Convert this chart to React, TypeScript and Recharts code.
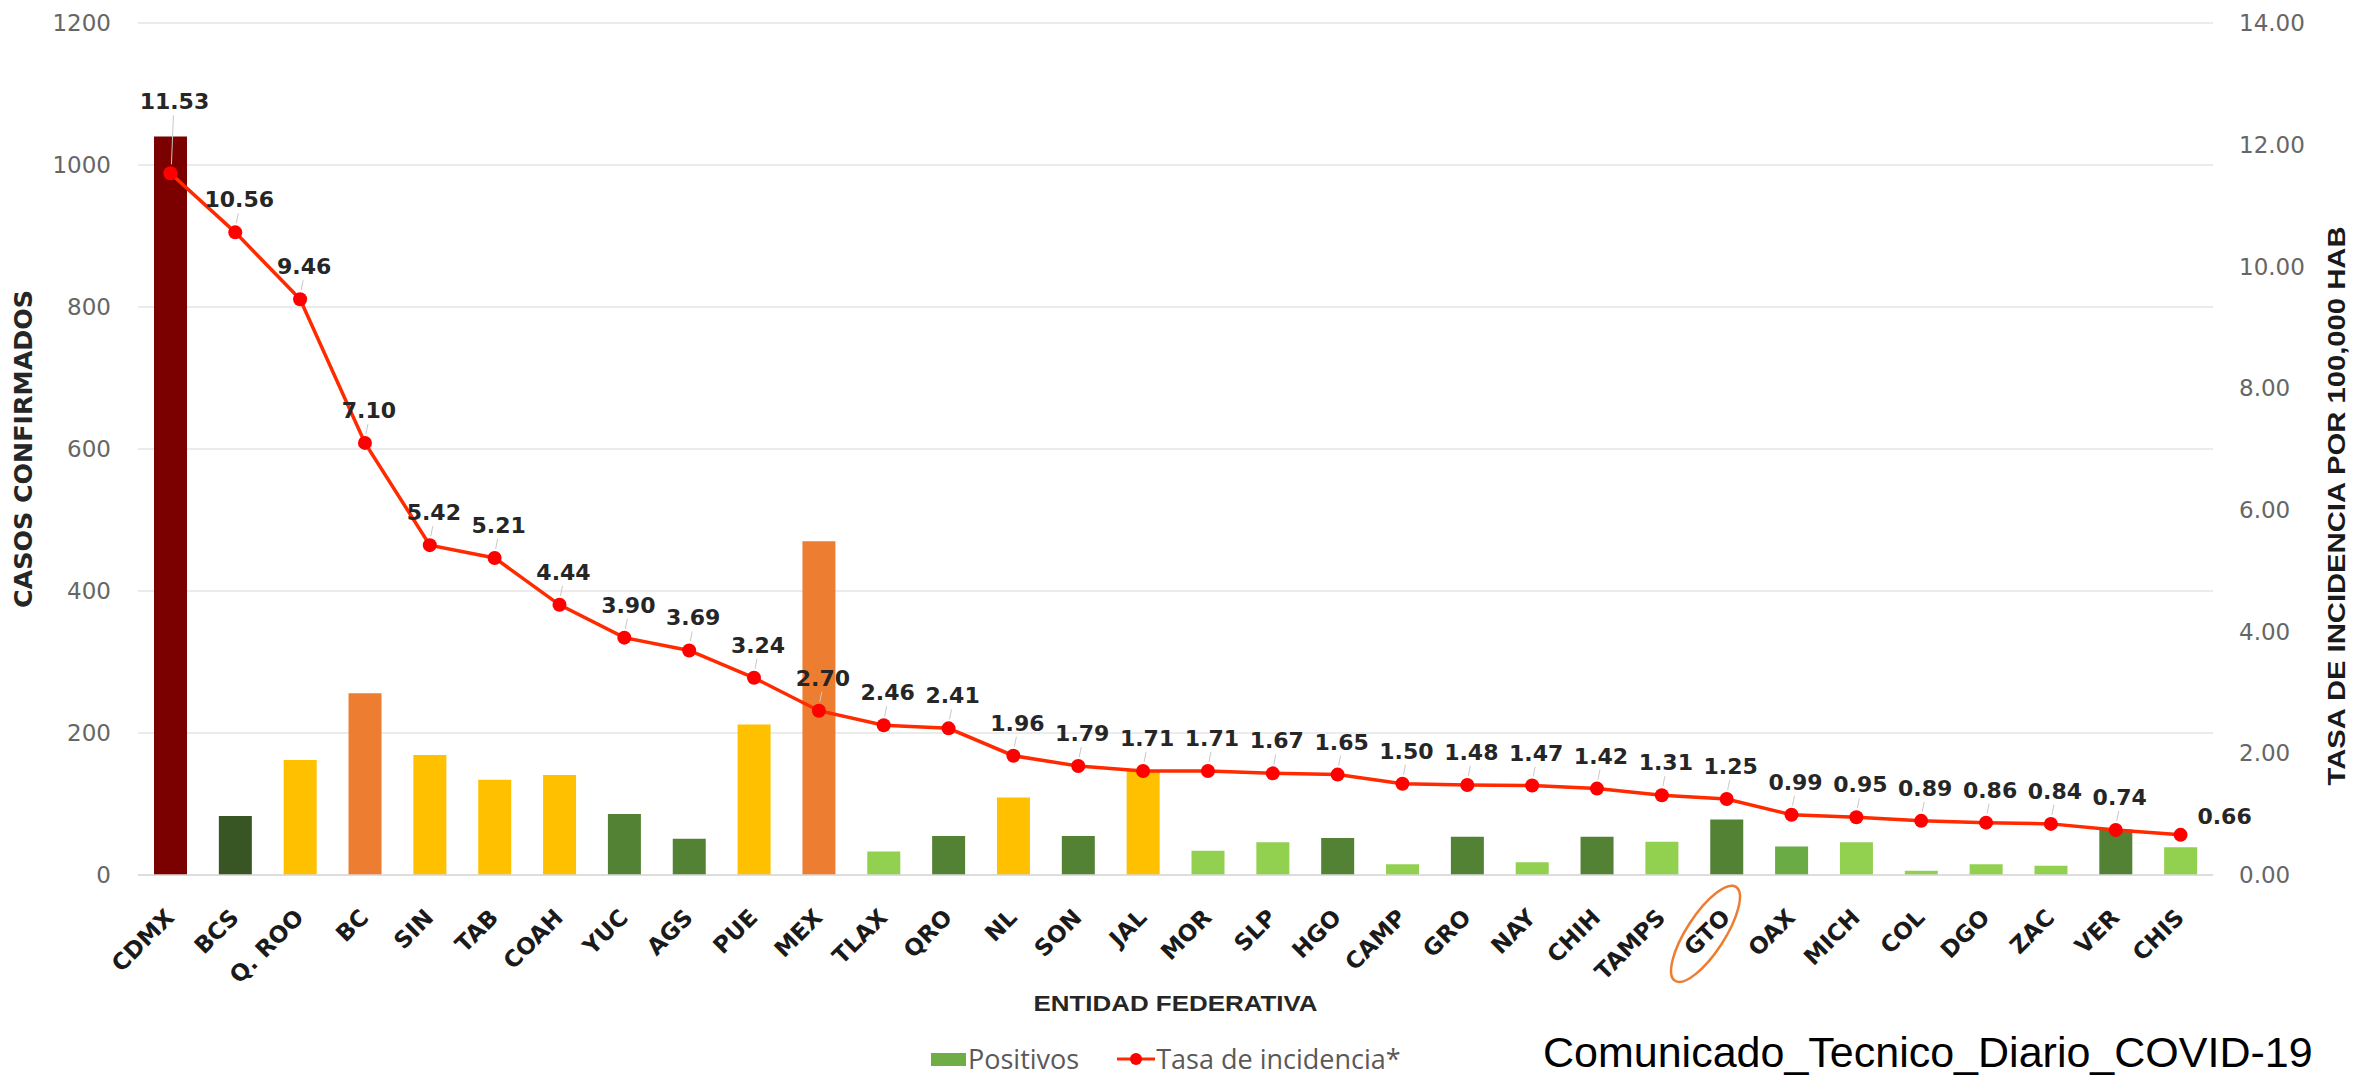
import React from 'react';
import {
  ComposedChart, Bar, Line, Cell, XAxis, YAxis, CartesianGrid, Legend, LabelList, Label,
} from 'recharts';

const ESTADOS = ['CDMX', 'BCS', 'Q. ROO', 'BC', 'SIN', 'TAB', 'COAH', 'YUC', 'AGS', 'PUE', 'MEX', 'TLAX', 'QRO', 'NL', 'SON', 'JAL', 'MOR', 'SLP', 'HGO', 'CAMP', 'GRO', 'NAY', 'CHIH', 'TAMPS', 'GTO', 'OAX', 'MICH', 'COL', 'DGO', 'ZAC', 'VER', 'CHIS'];
const POSITIVOS = [1040, 83, 162, 256, 169, 134, 141, 86, 51, 212, 470, 33, 55, 109, 55, 148, 34, 46, 52, 15, 54, 18, 54, 47, 78, 40, 46, 6, 15, 13, 64, 39];
const TASA = [11.53, 10.56, 9.46, 7.10, 5.42, 5.21, 4.44, 3.90, 3.69, 3.24, 2.70, 2.46, 2.41, 1.96, 1.79, 1.71, 1.71, 1.67, 1.65, 1.50, 1.48, 1.47, 1.42, 1.31, 1.25, 0.99, 0.95, 0.89, 0.86, 0.84, 0.74, 0.66];
// nivel de color de cada barra
const NIVEL = ['rojo', 'verdeOsc', 'amarillo', 'naranja', 'amarillo', 'amarillo', 'amarillo', 'verde', 'verde', 'amarillo', 'naranja', 'verdeClaro', 'verde', 'amarillo', 'verde', 'amarillo', 'verdeClaro', 'verdeClaro', 'verde', 'verdeClaro', 'verde', 'verdeClaro', 'verde', 'verdeClaro', 'verde', 'verdeMedio', 'verdeClaro', 'verdeClaro', 'verdeClaro', 'verdeClaro', 'verde', 'verdeClaro'];
const LEFT_TICKS = [0, 200, 400, 600, 800, 1000, 1200];
const RIGHT_TICKS = [0, 2, 4, 6, 8, 10, 12, 14];

const COLORES: Record<string, string> = {
  rojo: '#7B0000',
  naranja: '#ED7D31',
  amarillo: '#FFC000',
  verdeOsc: '#375623',
  verde: '#548235',
  verdeMedio: '#6AAB46',
  verdeClaro: '#92D050',
};

const data = ESTADOS.map((estado, i) => ({ estado, positivos: POSITIVOS[i], tasa: TASA[i] }));

const BOLD = 'DejaVu Sans, sans-serif';

function EstadoTick({ x, y, payload }: any) {
  const gto = payload.value === 'GTO';
  return (
    <g transform={`translate(${x + 5},${y + 42})`}>
      <g transform="rotate(-45)">
        <text textAnchor="end" fontFamily={BOLD} fontWeight="bold" fontSize={23} fill="#1a1a1a">
          {payload.value}
        </text>
        {gto && (
          <ellipse cx={-29} cy={-8} rx={56} ry={19} transform="rotate(-12 -29 -8)"
            fill="none" stroke="#ED7D31" strokeWidth={2.5} />
        )}
      </g>
    </g>
  );
}

function TasaLabel(props: any) {
  const { x, y, value, index } = props;
  const txt = Number(value).toFixed(2);
  const common = {
    textAnchor: 'middle' as const, dominantBaseline: 'middle' as const,
    fontFamily: BOLD, fontWeight: 'bold', fontSize: 22, fill: '#262626',
  };
  if (index === TASA.length - 1) {
    return <text x={x + 44} y={y - 17} {...common}>{txt}</text>;
  }
  // la primera etiqueta queda encima de la barra de CDMX
  const off = index === 0 ? 70 : 31;
  return (
    <g>
      <line x1={x + 1} y1={y - 9} x2={x + 3} y2={y - off + 12} stroke="#C8C8C8" strokeWidth={1} />
      <text x={x + 4} y={y - off} {...common}>{txt}</text>
    </g>
  );
}

function LeyendaContenido() {
  const txt: React.CSSProperties = {
    fontFamily: 'Open Sans, sans-serif', fontSize: 27, lineHeight: '26px', color: '#595959',
  };
  return (
    <div style={{ display: 'flex', alignItems: 'center', height: 26 }}>
      <div style={{ width: 35, height: 13, background: '#70AD47', marginRight: 2 }} />
      <span style={txt}>Positivos</span>
      <svg width={38} height={20} style={{ marginLeft: 38, marginRight: 1 }}>
        <line x1={0} y1={10} x2={38} y2={10} stroke="#FF2A00" strokeWidth={3} />
        <circle cx={19} cy={10} r={6} fill="#FF0000" />
      </svg>
      <span style={txt}>Tasa de incidencia*</span>
    </div>
  );
}

export default function App() {
  return (
    <div style={{ position: 'absolute', left: 0, top: 0, width: 2371, height: 1075, background: '#fff' }}>
      <ComposedChart width={2371} height={1075} data={data}
        margin={{ top: 23, right: 0, left: 0, bottom: 55 }}>
        <CartesianGrid yAxisId="left" vertical={false} stroke="#E4E4E4" strokeWidth={1.5} />
        <XAxis dataKey="estado" interval={0} height={145} tick={<EstadoTick />} tickLine={false}
          tickSize={0} axisLine={{ stroke: '#D9D9D9', strokeWidth: 1.5 }}>
          <Label content={(p: any) => (
            <text x={p.viewBox.x + p.viewBox.width / 2} y={p.viewBox.y + 130} textAnchor="middle"
              dominantBaseline="middle" fontFamily="Liberation Sans, Arial, sans-serif" fontWeight="bold"
              fontSize={22} textLength={284} lengthAdjust="spacingAndGlyphs" fill="#262626">
              ENTIDAD FEDERATIVA
            </text>
          )} />
        </XAxis>
        <YAxis yAxisId="left" domain={[0, 1200]} ticks={LEFT_TICKS} width={138} axisLine={false}
          tickLine={false} tickSize={0} tickMargin={27}
          tick={{ fill: '#666666', fontSize: 23, fontFamily: 'DejaVu Sans, sans-serif' }}>
          <Label content={(p: any) => {
            const cx = p.viewBox.x + 25;
            const cy = p.viewBox.y + p.viewBox.height / 2;
            return (
              <text x={cx} y={cy} transform={`rotate(-90 ${cx} ${cy})`} textAnchor="middle"
                dominantBaseline="middle" fontFamily={BOLD} fontWeight="bold" fontSize={24}
                textLength={318} lengthAdjust="spacingAndGlyphs" fill="#262626">
                CASOS CONFIRMADOS
              </text>
            );
          }} />
        </YAxis>
        <YAxis yAxisId="right" orientation="right" domain={[0, 14]} ticks={RIGHT_TICKS} width={158}
          axisLine={false} tickLine={false} tickSize={0} tickMargin={26}
          tickFormatter={(v: number) => v.toFixed(2)}
          tick={{ fill: '#666666', fontSize: 23, fontFamily: 'DejaVu Sans, sans-serif', textAnchor: 'start' }}>
          <Label content={(p: any) => {
            const cx = p.viewBox.x + 126;
            const cy = p.viewBox.y + p.viewBox.height / 2 + 57;
            return (
              <text x={cx} y={cy} transform={`rotate(-90 ${cx} ${cy})`} textAnchor="middle"
                dominantBaseline="middle" fontFamily="Liberation Sans, Arial, sans-serif" fontWeight="bold"
                fontSize={24} textLength={559} lengthAdjust="spacingAndGlyphs" fill="#1a1a1a">
                TASA DE INCIDENCIA POR  100,000 HAB
              </text>
            );
          }} />
        </YAxis>
        <Legend layout="horizontal" verticalAlign="middle" align="center" content={<LeyendaContenido />}
          wrapperStyle={{ position: 'absolute', left: 931, top: 1046, width: 640, height: 26 }} />
        <Bar yAxisId="left" dataKey="positivos" name="Positivos" barSize={33} fill="#70AD47"
          isAnimationActive={false}>
          {data.map((d, i) => (
            <Cell key={`c-${i}`} fill={COLORES[NIVEL[i]]} />
          ))}
        </Bar>
        <Line yAxisId="right" dataKey="tasa" name="Tasa de incidencia*" type="linear" stroke="#FF2A00"
          strokeWidth={3.5} dot={{ r: 7, fill: '#FF0000', stroke: 'none' }} activeDot={false}
          isAnimationActive={false}>
          <LabelList dataKey="tasa" content={<TasaLabel />} />
        </Line>
      </ComposedChart>
      <div style={{ position: 'absolute', left: 1543, top: 1031, fontFamily: 'Liberation Sans, Arial, sans-serif',
        fontSize: 43, lineHeight: '43px', color: '#000', whiteSpace: 'nowrap' }}>
        Comunicado_Tecnico_Diario_COVID-19
      </div>
    </div>
  );
}
